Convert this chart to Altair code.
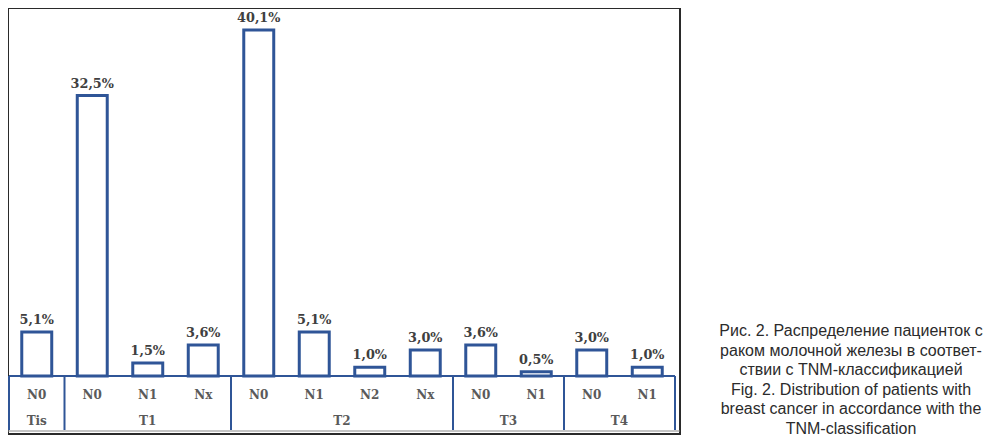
import altair as alt
import pandas as pd

# --- data ---
groups = ["Tis", "T1", "T1", "T1", "T2", "T2", "T2", "T2", "T3", "T3", "T4", "T4"]
nstages = ["N0", "N0", "N1", "Nx", "N0", "N1", "N2", "Nx", "N0", "N1", "N0", "N1"]
values = [5.1, 32.5, 1.5, 3.6, 40.1, 5.1, 1.0, 3.0, 3.6, 0.5, 3.0, 1.0]
caption = [
    "Рис. 2. Распределение пациенток с",
    "раком молочной железы в соответ-",
    "ствии с TNM-классификацией",
    "Fig. 2. Distribution of patients with",
    "breast cancer in accordance with the",
    "TNM-classification",
]

keys = [f"{g}|{n}" for g, n in zip(groups, nstages)]
bars = pd.DataFrame({
    "key": keys,
    "group": groups,
    "n": nstages,
    "value": values,
    "label": [f"{v:.1f}%".replace(".", ",") for v in values],
})

# group boundaries and centres
order = []
for g in groups:
    if g not in order:
        order.append(g)
starts, mids_odd, mids_even = [], [], []
for g in order:
    idx = [i for i, gg in enumerate(groups) if gg == g]
    s, cnt = idx[0], len(idx)
    starts.append(keys[s])
    mid_key = keys[s + cnt // 2]
    if cnt % 2 == 1:
        mids_odd.append({"key": mid_key, "group": g})
    else:
        mids_even.append({"key": mid_key, "group": g})
sep_df = pd.DataFrame({"key": starts})
end_df = pd.DataFrame({"key": [keys[-1]]})
base_df = pd.DataFrame({"start": [keys[0]], "end": [keys[-1]]})

BLUE = "#2f5597"
W, H = 976, 432
xscale = alt.Scale(domain=keys, range=[1, 667], paddingInner=0, paddingOuter=0)
yscale = alt.Scale(domain=[0, 40.1], range=[368, 22])

def X(field="key", band=0.5):
    return alt.X(f"{field}:N", scale=xscale, axis=None, bandPosition=band)

frame = alt.Chart(pd.DataFrame({"a": [0]})).mark_rect(
    fill=None, stroke="#2a2a2a", strokeWidth=2
).encode(x=alt.value(0), x2=alt.value(672), y=alt.value(0), y2=alt.value(426))
frame_bottom = alt.Chart(pd.DataFrame({"a": [0]})).mark_rule(
    color="#8a8a8a", strokeWidth=1
).encode(x=alt.value(0), x2=alt.value(672), y=alt.value(423))

bar = alt.Chart(bars).mark_bar(
    fill="white", stroke=BLUE, strokeWidth=3, width={"band": 0.54}
).encode(
    x=X(),
    y=alt.Y("value:Q", scale=yscale, axis=None),
)

vlabels = alt.Chart(bars).mark_text(
    font="DejaVu Serif", fontWeight="bold", fontSize=12.8, color="#404040",
    baseline="bottom", dy=-5,
).encode(x=X(), y=alt.Y("value:Q", scale=yscale, axis=None), text="label:N")

baseline = alt.Chart(base_df).mark_rule(color=BLUE, strokeWidth=2).encode(
    x=alt.X("start:N", scale=xscale, axis=None, bandPosition=0),
    x2=alt.X2("end:N", bandPosition=1),
    y=alt.value(368),
)

seps = alt.Chart(sep_df).mark_rule(color=BLUE, strokeWidth=2).encode(
    x=X(band=0), y=alt.value(368), y2=alt.value(422)
)
sep_end = alt.Chart(end_df).mark_rule(color=BLUE, strokeWidth=2).encode(
    x=X(band=1), y=alt.value(368), y2=alt.value(422)
)

nlabels = alt.Chart(bars).mark_text(
    font="DejaVu Serif", fontWeight="bold", fontSize=12, color="#5a5a5a",
    baseline="middle",
).encode(x=X(), y=alt.value(387), text="n:N")

glab_odd = alt.Chart(pd.DataFrame(mids_odd)).mark_text(
    font="DejaVu Serif", fontWeight="bold", fontSize=12, color="#5a5a5a",
    baseline="middle",
).encode(x=X(band=0.5), y=alt.value(413), text="group:N")
glab_even = alt.Chart(pd.DataFrame(mids_even)).mark_text(
    font="DejaVu Serif", fontWeight="bold", fontSize=12, color="#5a5a5a",
    baseline="middle",
).encode(x=X(band=0), y=alt.value(413), text="group:N")

cap = alt.Chart(pd.DataFrame({"a": [0]})).mark_text(
    font="Liberation Sans", fontSize=16, color="#2b2b2b", align="center",
    baseline="middle", lineHeight=19.6, text=caption,
).encode(x=alt.value(843), y=alt.value(323))

chart = alt.layer(
    frame, frame_bottom, bar, vlabels, baseline, seps, sep_end, nlabels,
    glab_odd, glab_even, cap
).properties(
    width=W, height=H, autosize=alt.AutoSizeParams(type="none"), padding=0
).configure_view(stroke=None)

chart.save("out.html", embed_options={"renderer": "svg", "actions": False})
